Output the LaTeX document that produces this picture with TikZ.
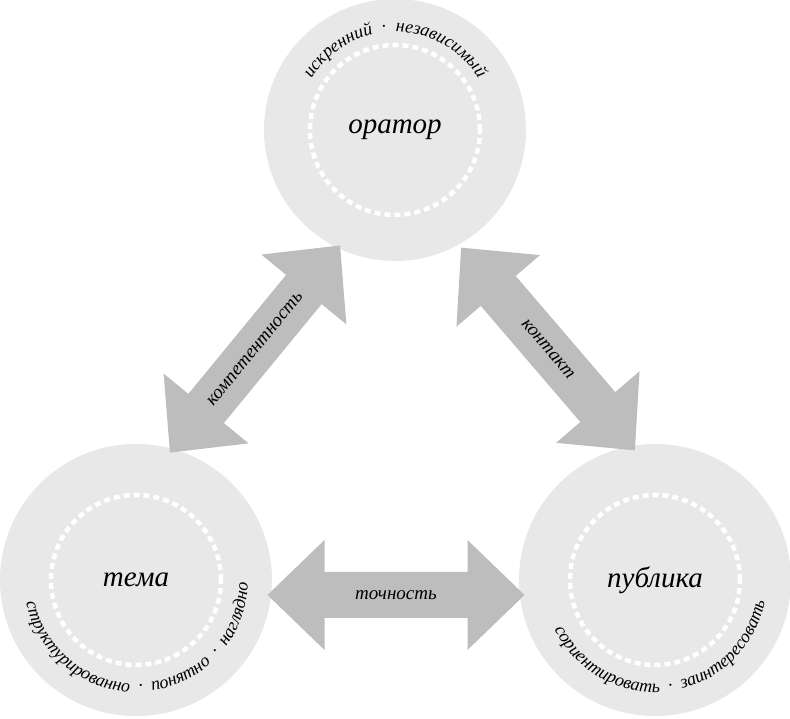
\documentclass[tikz,border=0pt]{standalone}
\usepackage{fontspec}
\setmainfont{Liberation Serif}
\usetikzlibrary{decorations.text,calc}
\definecolor{disc}{HTML}{E8E8E8}
\definecolor{arr}{HTML}{BDBDBD}
\begin{document}
\begin{tikzpicture}[x=1pt,y=1pt,
  disc/.style={circle,fill=disc,minimum size=#1,inner sep=0pt},
  ring/.style={draw=white,line width=4.5pt,dash pattern=on 6pt off 4pt},
  big/.style={font=\fontsize{29}{32}\selectfont\itshape},
  arcl/.style={decorate,decoration={text along path,text align=center,
     text={|\fontsize{18}{20}\selectfont\itshape|#1}}},
  dbl/.style={fill=arr},
  alab/.style={font=\fontsize{19}{22}\selectfont\itshape}]
\useasboundingbox (0,0) rectangle (790,719);
% discs
\node[disc=262pt] (ora) at (395,589) {};
\node[disc=272pt] (tem) at (136,139) {};
\node[disc=272pt] (pub) at (655,139) {};
\foreach \c in {ora,tem,pub} \draw[ring] (\c) circle[radius=85];
\node[big] at (ora) {оратор};
\node[big] at (tem) {тема};
\node[big] at (pub) {публика};
% arc texts
\path[arcl={искренний \ · \ независимый}] ($(395,589)+(165:98)$) arc[start angle=165,end angle=15,radius=98];
\path[arcl={структурированно \ · \ понятно \ · \ наглядно}] ($(136,139)+(175:112)$) arc[start angle=175,end angle=375,radius=112];
\path[arcl={сориентировать \ · \ заинтересовать}] ($(655,139)+(190:112)$) arc[start angle=190,end angle=365,radius=112];
% arrows
\foreach \mx/\my/\ang/\len/\nm in {396/124/0/257/bot, 255/370/50.6/268/lef, 548/370/-49.4/267/rig}{
  \begin{scope}[shift={(\mx,\my)},rotate=\ang]
    \pgfmathsetmacro\h{\len/2}
    \pgfmathsetmacro\b{\len/2-57}
    \fill[dbl] (-\h,0) -- (-\b,55) -- (-\b,23) -- (\b,23) -- (\b,55) -- (\h,0)
      -- (\b,-55) -- (\b,-23) -- (-\b,-23) -- (-\b,-55) -- cycle;
    \coordinate (\nm) at (0,0);
  \end{scope}}
\node[alab] at (bot) {точность};
\node[alab,rotate=50.6] at (lef) {компетентность};
\node[alab,rotate=-49.4] at (rig) {контакт};
\end{tikzpicture}
\end{document}
